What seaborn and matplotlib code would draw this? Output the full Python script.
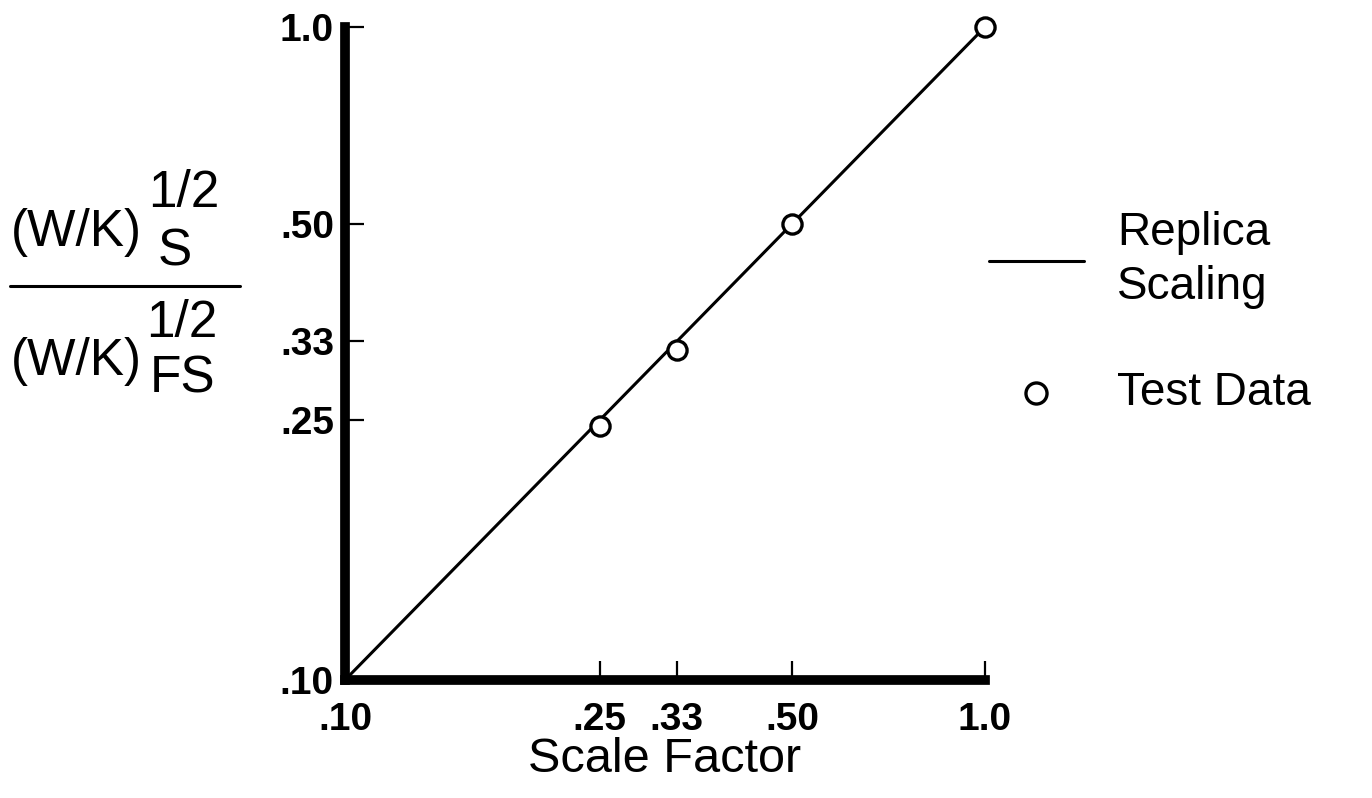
import numpy as np
import pandas as pd
import seaborn as sns
import matplotlib.pyplot as plt
from matplotlib.lines import Line2D

# chart values
replica_x = [0.10, 1.0]
replica_y = [0.10, 1.0]
test_x = [0.25, 0.33, 0.50, 1.0]
test_y = [0.245, 0.32, 0.50, 1.0]
tick_vals = [0.10, 0.25, 0.33, 0.50, 1.0]
tick_labels = [".10", ".25", ".33", ".50", "1.0"]

sns.set_style("ticks")
plt.rcParams['font.family'] = ['Liberation Sans', 'DejaVu Sans']
plt.rcParams['text.color'] = 'black'
plt.rcParams['axes.labelcolor'] = 'black'

W, H = 1372, 798
fig = plt.figure(figsize=(W / 100, H / 100), dpi=100)
ax = fig.add_axes([345 / W, 1 - 680 / H, 640 / W, 653 / H])

line_df = pd.DataFrame({"x": replica_x, "y": replica_y})
test_df = pd.DataFrame({"x": test_x, "y": test_y})

sns.lineplot(data=line_df, x="x", y="y", ax=ax, color="black", lw=2.2,
             label="Replica\nScaling")
sns.scatterplot(data=test_df, x="x", y="y", ax=ax, marker="o", s=190,
                facecolor="white", edgecolor="black", linewidth=2.4,
                zorder=5, clip_on=False, label="Test Data")

ax.set_xscale("log")
ax.set_yscale("log")
ax.set_xlim(0.1, 1.0)
ax.set_ylim(0.1, 1.0)
ax.minorticks_off()
ax.set_xticks(tick_vals)
ax.set_xticklabels(tick_labels)
ax.set_yticks(tick_vals)
ax.set_yticklabels(tick_labels)

for side in ["top", "right"]:
    ax.spines[side].set_visible(False)
for side in ["left", "bottom"]:
    ax.spines[side].set_linewidth(7)
    ax.spines[side].set_color("black")
    ax.spines[side].set_capstyle("projecting")

ax.tick_params(axis="both", which="major", direction="in", length=14,
               width=1.6, colors="black", labelsize=28,
               bottom=True, left=True, top=False, right=False)
ax.tick_params(axis="x", pad=16)
ax.tick_params(axis="y", pad=8)
for lab in ax.get_xticklabels() + ax.get_yticklabels():
    lab.set_fontweight("bold")

ax.set_xlabel("Scale Factor", fontsize=35, labelpad=-1, color="black")
ax.set_ylabel("")

leg = ax.legend(loc="upper left", bbox_to_anchor=(989 / W, 1 - 211 / H),
                bbox_transform=fig.transFigure, frameon=False, fontsize=33,
                handlelength=2.07, handletextpad=0.72, labelspacing=1.35,
                markerscale=1.1, borderpad=0, borderaxespad=0)
for t in leg.get_texts():
    t.set_color("black")
    t.set_linespacing(1.3)

# stacked y-axis label drawn as a fraction
fs = 37
def put(txt, x, y):
    fig.text(x / W, 1 - y / H, txt, fontsize=fs, ha="left", va="baseline",
             color="black")

put("(W/K)", 11, 246)
put("1/2", 148, 207)
put("S", 158, 265)
fig.add_artist(Line2D([10 / W, 240 / W], [1 - 286 / H, 1 - 286 / H],
                      transform=fig.transFigure, color="black", lw=2.2))
put("(W/K)", 11, 375)
put("1/2", 146, 337)
put("FS", 150, 393)

plt.savefig("out.png", dpi=100)
